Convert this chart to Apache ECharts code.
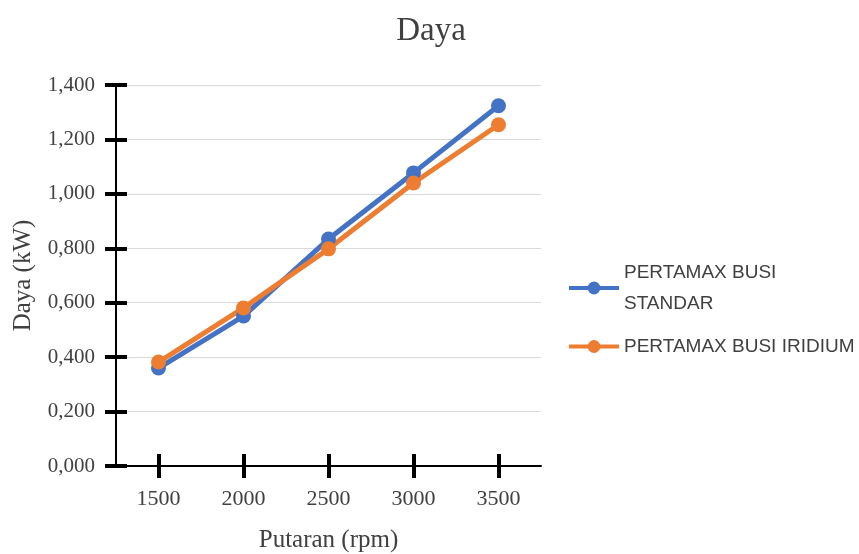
<!DOCTYPE html>
<html><head><meta charset="utf-8">
<script src="https://cdn.jsdelivr.net/npm/echarts@6/dist/echarts.min.js"></script>
<style>html,body{margin:0;padding:0;background:#fff}#c{width:859px;height:554px}</style>
</head><body><div id="c"></div>
<script>
const categories = ['1500', '2000', '2500', '3000', '3500'];
const standar = [0.360, 0.551, 0.834, 1.077, 1.324];
const iridium = [0.382, 0.581, 0.798, 1.040, 1.254];
const seriesNames = ['PERTAMAX BUSI STANDAR', 'PERTAMAX BUSI IRIDIUM'];
const chart = echarts.init(document.getElementById('c'));
const serif = 'Liberation Serif';
const fmt = v => v.toFixed(3).replace('.', ',');
const tickStyle = { color: '#000', width: 4 };
chart.setOption({
  animation: false,
  title: { text: 'Daya', left: 426, top: 10, textAlign: 'center',
    textStyle: { fontFamily: serif, fontSize: 33, fontWeight: 'normal', color: '#404040' } },
  grid: { left: 116, right: 318, top: 85, bottom: 88, outerBoundsMode: 'none', containLabel: false },
  legend: {
    orient: 'vertical', left: 562, top: 252, itemWidth: 50, itemHeight: 16, itemGap: 12,
    data: seriesNames,
    lineStyle: { width: 4 },
    formatter: n => n === 'PERTAMAX BUSI STANDAR' ? 'PERTAMAX BUSI\nSTANDAR' : n,
    textStyle: { fontFamily: 'Liberation Sans', fontSize: 19, color: '#404040', lineHeight: 31 }
  },
  xAxis: [
    { type: 'category', data: categories, boundaryGap: true,
      name: 'Putaran (rpm)', nameLocation: 'middle', nameGap: 62,
      nameTextStyle: { fontFamily: serif, fontSize: 25, color: '#404040' },
      axisLine: { lineStyle: { color: '#000', width: 2 } },
      axisTick: { show: true, alignWithLabel: true, length: 12, lineStyle: tickStyle },
      axisLabel: { fontFamily: serif, fontSize: 22, color: '#404040', margin: 22 } },
    { type: 'category', data: categories, boundaryGap: true, position: 'bottom',
      axisLine: { show: false },
      axisTick: { show: true, alignWithLabel: true, inside: true, length: 12, lineStyle: tickStyle },
      axisLabel: { show: false } }
  ],
  yAxis: [
    { type: 'value', min: 0, max: 1.4, interval: 0.2,
      name: 'Daya (kW)', nameLocation: 'middle', nameGap: 80,
      nameTextStyle: { fontFamily: serif, fontSize: 25, color: '#404040' },
      axisLine: { show: true, lineStyle: { color: '#000', width: 2 } },
      axisTick: { show: true, length: 11, lineStyle: tickStyle },
      axisLabel: { formatter: fmt, fontFamily: serif, fontSize: 21, color: '#404040', margin: 21 },
      splitLine: { lineStyle: { color: '#d9d9d9', width: 1 } } },
    { type: 'value', min: 0, max: 1.4, interval: 0.2, position: 'left',
      axisLine: { show: false },
      axisTick: { show: true, inside: true, length: 11, lineStyle: tickStyle },
      axisLabel: { show: false }, splitLine: { show: false } }
  ],
  series: [
    { name: seriesNames[0], type: 'line', data: standar, symbol: 'circle', symbolSize: 15,
      itemStyle: { color: '#4472C4' }, lineStyle: { width: 5, color: '#4472C4' } },
    { name: seriesNames[1], type: 'line', data: iridium, symbol: 'circle', symbolSize: 15,
      itemStyle: { color: '#ED7D31' }, lineStyle: { width: 5, color: '#ED7D31' } }
  ]
});
</script></body></html>
